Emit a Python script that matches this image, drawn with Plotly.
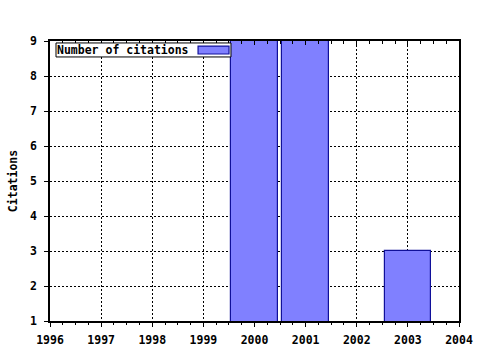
import plotly.graph_objects as go

years = [2000, 2001, 2003]
citations = [9, 9, 3]
series_name = "Number of citations"
y_title = "Citations"
x_ticks = list(range(1996, 2005))
y_ticks = list(range(1, 10))

FONT = dict(family="DejaVu Sans Mono", size=11.5, color="black", weight="bold")
FILL = "#8080ff"
EDGE = "#10109a"

fig = go.Figure()
fig.add_trace(go.Bar(x=years, y=citations, width=0.91, name=series_name,
                     marker=dict(color=FILL, line=dict(color=EDGE, width=1.2)),
                     showlegend=False))
# helper trace so the overlay axes are drawn
fig.add_trace(go.Scatter(x=[years[0]], y=[citations[0]], xaxis="x2", yaxis="y2",
                         mode="markers", marker=dict(opacity=0), showlegend=False,
                         hoverinfo="skip"))

grid = dict(showgrid=True, gridcolor="black", gridwidth=1, griddash="2px,2px")

fig.update_layout(
    width=480, height=350,
    margin=dict(l=50, r=21, t=41, b=29),
    paper_bgcolor="white", plot_bgcolor="white",
    font=FONT,
    bargap=0,
    xaxis=dict(range=[1996, 2004], tickmode="array", tickvals=x_ticks,
               ticktext=[str(v) for v in x_ticks],
               ticks="outside", ticklen=4, tickwidth=1, tickcolor="black",
               minor=dict(dtick=0.25, ticks="outside", ticklen=2, tickcolor="black",
                          showgrid=False),
               showline=True, linecolor="black", linewidth=1.5, automargin=False,
               zeroline=False, ticklabelstandoff=3, **grid),
    yaxis=dict(range=[1, 9], tickmode="array", tickvals=y_ticks,
               ticks="outside", ticklen=4, tickwidth=1, tickcolor="black",
               showline=True, linecolor="black", linewidth=1.5, automargin=False,
               zeroline=False, ticklabelstandoff=5,
               title=dict(text=y_title, standoff=10, font=FONT), **grid),
    xaxis2=dict(range=[1996, 2004], overlaying="x", side="top", tickmode="array",
                tickvals=x_ticks, showticklabels=False, automargin=False,
                ticks="inside", ticklen=4, tickcolor="black",
                minor=dict(dtick=0.25, ticks="inside", ticklen=3, tickcolor="black"),
                showline=True, linecolor="black", linewidth=1.5,
                showgrid=False, zeroline=False),
    yaxis2=dict(range=[1, 9], overlaying="y", side="right", tickmode="array",
                tickvals=y_ticks, showticklabels=False, ticks="", automargin=False,
                showline=True, linecolor="black", linewidth=1.5,
                showgrid=False, zeroline=False),
)

# legend drawn manually (swatch on the right, as in the reference)
fig.add_shape(type="rect", xref="paper", yref="paper",
              x0=0.0147, x1=0.4425, y0=0.943, y1=0.993,
              line=dict(color="black", width=1), fillcolor="white", layer="above")
fig.add_shape(type="rect", xref="paper", yref="paper",
              x0=0.362, x1=0.4377, y0=0.9535, y1=0.982,
              line=dict(color=EDGE, width=1.2), fillcolor=FILL, layer="above")
fig.add_annotation(text=series_name, xref="paper", yref="paper",
                   x=0.013, y=0.968, xanchor="left", yanchor="middle",
                   showarrow=False, font=FONT)

fig.write_html("out.html")
